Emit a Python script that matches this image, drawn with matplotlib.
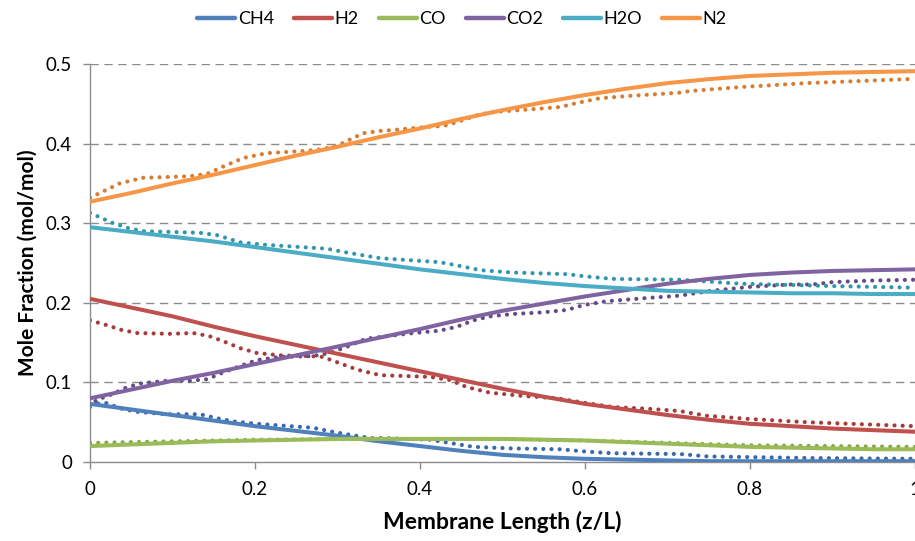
import matplotlib
matplotlib.use("Agg")
import matplotlib.pyplot as plt
from matplotlib.lines import Line2D

plt.rcParams['font.family'] = ['Lato', 'DejaVu Sans']

species = ["CH4", "H2", "CO", "CO2", "H2O", "N2"]
solid_colors = ["#4F81BD", "#C0504D", "#9BBB59", "#8064A2", "#4BACC6", "#F79646"]
dot_colors = ["#3A68A8", "#A53C3A", "#86A847", "#654A87", "#3196AC", "#D67C33"]

x_solid = [0.0, 0.05, 0.1, 0.15, 0.2, 0.25, 0.3, 0.35, 0.4, 0.45, 0.5,
           0.55, 0.6, 0.65, 0.7, 0.75, 0.8, 0.85, 0.9, 0.95, 1.0]
ch4_solid = [.073, .066, .059, .052, .045, .039, .033, .026, .020, .014, .009,
             .006, .004, .003, .002, .001, .001, .001, .001, .001, .001]
h2_solid = [.205, .194, .183, .170, .158, .147, .136, .125, .114, .103, .092,
            .082, .073, .066, .059, .053, .048, .045, .042, .040, .038]
co_solid = [.020, .022, .024, .026, .027, .028, .029, .029, .029, .029, .029,
            .028, .027, .025, .023, .021, .019, .018, .017, .016, .016]
co2_solid = [.080, .091, .102, .112, .123, .134, .145, .156, .167, .179, .190,
             .199, .208, .216, .224, .230, .235, .238, .240, .241, .242]
h2o_solid = [.295, .289, .283, .277, .270, .263, .256, .249, .242, .236, .230,
             .225, .221, .218, .215, .214, .213, .212, .212, .211, .211]
n2_solid = [.327, .338, .350, .361, .373, .385, .396, .408, .419, .431, .442,
            .452, .461, .469, .476, .481, .485, .487, .489, .490, .491]

ch4_dot_x = [0, .02, .038, .057, .093, .133, .154, .174, .202, .27, .299, .34, .356, .412, .436, .465,
             .513, .57, .602, .634, .715, .748, .869, 1.0]
ch4_dot_y = [.073, .074, .067, .063, .06, .06, .055, .051, .048, .043, .037, .03, .03, .028, .024, .019,
             .017, .016, .013, .011, .01, .007, .005, .004]

h2_dot_x = [0, .02, .038, .057, .097, .125, .145, .161, .182, .202, .23, .267, .282, .303, .324, .352,
            .412, .436, .457, .485, .525, .566, .602, .634, .675, .715, .748, .8, .869, 1.0]
h2_dot_y = [.178, .172, .166, .162, .161, .162, .158, .152, .143, .137, .134, .133, .132, .124, .116, .109,
            .107, .103, .094, .087, .083, .08, .074, .069, .067, .064, .058, .054, .05, .045]

co_dot_x = [0, .1, .2, .35, .5, .6, .7, .8, .9, 1.0]
co_dot_y = [.024, .026, .028, .029, .029, .027, .024, .021, .02, .019]

co2_dot_x = [0, .008, .024, .045, .063, .093, .121, .142, .158, .178, .202, .23, .27, .291, .312, .335,
             .352, .392, .424, .445, .465, .485, .513, .549, .578, .598, .626, .675, .715, .752, .8,
             .848, .876, .9, .949, 1.0]
co2_dot_y = [.069, .078, .084, .094, .099, .102, .102, .104, .111, .119, .128, .132, .133, .137, .145, .155,
             .157, .162, .165, .17, .178, .183, .186, .188, .191, .197, .202, .206, .209, .215, .22,
             .223, .223, .226, .228, .229]

h2o_dot_x = [0, .028, .046, .064, .133, .154, .182, .21, .287, .312, .352, .424, .445, .473, .513, .578,
             .602, .634, .715, .788, .9, 1.0]
h2o_dot_y = [.313, .30, .294, .29, .288, .285, .276, .273, .268, .263, .256, .251, .247, .241, .238, .236,
             .233, .23, .229, .224, .221, .219]

n2_dot_x = [0, .036, .064, .121, .142, .161, .186, .214, .263, .282, .303, .331, .352, .367, .408, .428,
            .445, .473, .493, .533, .57, .59, .618, .655, .715, .727, .788, .869, .99, 1.0]
n2_dot_y = [.332, .35, .357, .359, .362, .371, .382, .388, .391, .393, .399, .413, .416, .417, .421, .422,
            .427, .437, .44, .443, .446, .451, .457, .46, .464, .466, .471, .476, .481, .481]

solid_series = [ch4_solid, h2_solid, co_solid, co2_solid, h2o_solid, n2_solid]
dot_series = [(ch4_dot_x, ch4_dot_y), (h2_dot_x, h2_dot_y), (co_dot_x, co_dot_y),
              (co2_dot_x, co2_dot_y), (h2o_dot_x, h2o_dot_y), (n2_dot_x, n2_dot_y)]

x_ticks = [0, 0.2, 0.4, 0.6, 0.8, 1.0]
x_ticklabels = ["0", "0.2", "0.4", "0.6", "0.8", "1"]
y_ticks = [0, 0.1, 0.2, 0.3, 0.4, 0.5]
y_ticklabels = ["0", "0.1", "0.2", "0.3", "0.4", "0.5"]

fig = plt.figure(figsize=(9.15, 5.41), dpi=100)
ax = fig.add_axes([90/915, 1-462/541, 825/915, (462-64)/541])
ax.set_xlim(0, 1)
ax.set_ylim(0, 0.5)

for yv in y_ticks[1:]:
    ax.axhline(yv, color="#8C8C8C", lw=1.0, dashes=(6, 4), zorder=0)

for (dx, dy), c in zip(dot_series, dot_colors):
    ax.plot(dx, dy, color=c, lw=3.0, linestyle=(0, (0.01, 1.95)),
            dash_capstyle='round', solid_joinstyle='round', zorder=2)

handles = []
for ys, c, name in zip(solid_series, solid_colors, species):
    ax.plot(x_solid, ys, color=c, lw=2.9, solid_capstyle='butt',
            solid_joinstyle='round', zorder=3, label=name)
    handles.append(Line2D([0], [0], color=c, lw=3.2, solid_capstyle='round'))

for side in ["top", "right"]:
    ax.spines[side].set_visible(False)
for side in ["left", "bottom"]:
    ax.spines[side].set_color("#8C8C8C")
    ax.spines[side].set_linewidth(1.0)

ax.set_xticks(x_ticks)
ax.set_xticklabels(x_ticklabels)
ax.set_yticks(y_ticks)
ax.set_yticklabels(y_ticklabels)
ax.tick_params(axis='both', colors="#8C8C8C", labelcolor="black", labelsize=13.5,
               length=5, width=1, direction='out')
ax.tick_params(axis='x', pad=9)
ax.tick_params(axis='y', pad=8)

ax.set_xlabel("Membrane Length (z/L)", fontsize=16.5, fontweight='bold', labelpad=9)
ax.set_ylabel("Mole Fraction (mol/mol)", fontsize=15, fontweight='bold', labelpad=6)

fig.legend(handles, species, loc='center', bbox_to_anchor=(0.505, 1-19/541), ncol=6, frameon=False,
           fontsize=13, handlelength=2.1, handletextpad=0.15, columnspacing=1.1)

fig.savefig("out.png", dpi=100)
